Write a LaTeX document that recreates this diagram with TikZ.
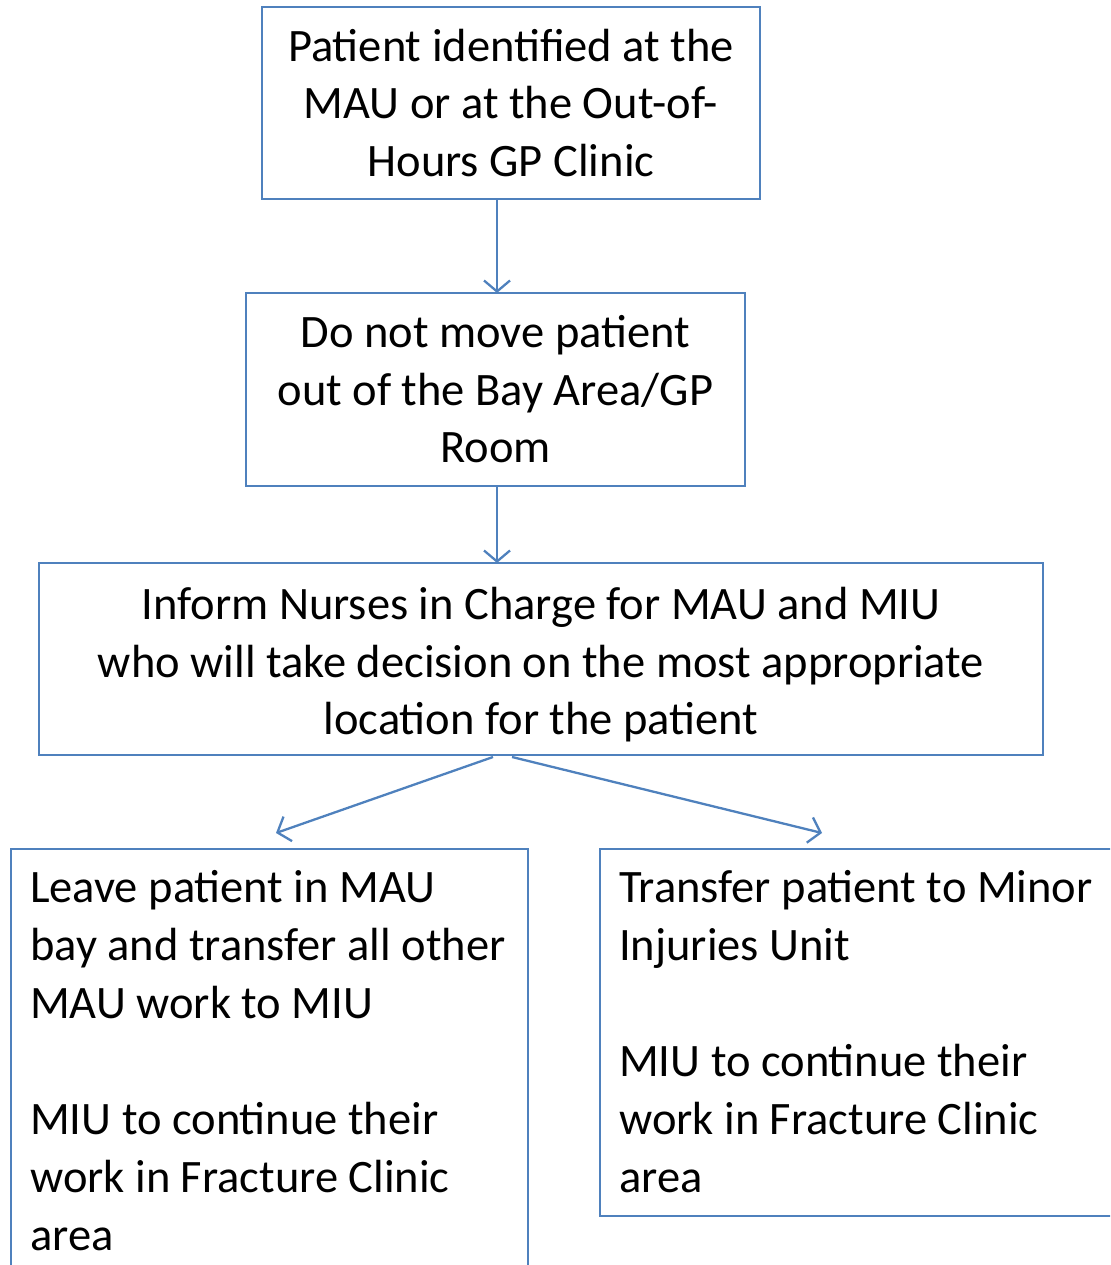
\documentclass[tikz,border=0pt]{standalone}
\usepackage{fontspec}
\setmainfont{Carlito}
\usetikzlibrary{arrows.meta}
\definecolor{boxblue}{HTML}{4F81BD}

\begin{document}
\begin{tikzpicture}[x=1pt,y=-1pt,
  box/.style={draw=boxblue, line width=2.3pt, inner sep=0pt},
  boxtext/.style={font=\fontsize{46.5}{57.5}\selectfont, inner sep=0pt},
  listtext/.style={font=\fontsize{46.5}{58}\selectfont, inner sep=0pt,
    align=left, anchor=base west},
  flow/.style={draw=boxblue, line width=2.3pt,
    -{Straight Barb[length=11pt,width=26pt,line width=2.3pt]}}]
  \useasboundingbox (0,0) rectangle (1110,1265);
  \clip (0,0) rectangle (1110,1265);

  % top three steps
  \node[box, boxtext, align=center, minimum width=498pt, minimum height=192pt]
    (identified) at (511,103)
    {Patient identified at the\\MAU or at the Out-of-\\Hours GP Clinic};
  \node[box, boxtext, align=center, minimum width=499pt, minimum height=193pt]
    (stay) at (495.5,389.5)
    {Do not move patient\\out of the Bay Area/GP\\Room};
  \node[box, minimum width=1004pt, minimum height=192pt]
    (inform) at (541,659) {};
  \node[boxtext, align=center] (informtext) at (541,665)
    {Inform Nurses in Charge for MAU and MIU\\who will take decision on the most appropriate\\location for the patient};

  % two outcomes (text placed by the baseline of its last line)
  \node[box, anchor=north west, minimum width=517pt, minimum height=450pt]
    (leave) at (10,848) {};
  \node[box, anchor=north west, minimum width=540pt, minimum height=367pt]
    (transfer) at (599,848) {};
  \node[listtext] (leavetext) at (30,1250)
    {Leave patient in MAU\\bay and transfer all other\\MAU work to MIU\\[58pt]MIU to continue their\\work in Fracture Clinic\\area};
  \node[listtext] (transfertext) at (619,1192)
    {Transfer patient to Minor\\Injuries Unit\\[58pt]MIU to continue their\\work in Fracture Clinic\\area};

  % connectors
  \coordinate (firststart) at (497,199);
  \coordinate (firsttip) at (497,293);
  \coordinate (secondstart) at (497,486);
  \coordinate (secondtip) at (497,563);
  \coordinate (leftstart) at (493,757);
  \coordinate (rightstart) at (512,757);
  \coordinate (lefttip) at (276,833);
  \coordinate (righttip) at (822,833);
  \draw[flow] (firststart) -- (firsttip);
  \draw[flow] (secondstart) -- (secondtip);
  \draw[flow] (leftstart) -- (lefttip);
  \draw[flow] (rightstart) -- (righttip);
\end{tikzpicture}
\end{document}
